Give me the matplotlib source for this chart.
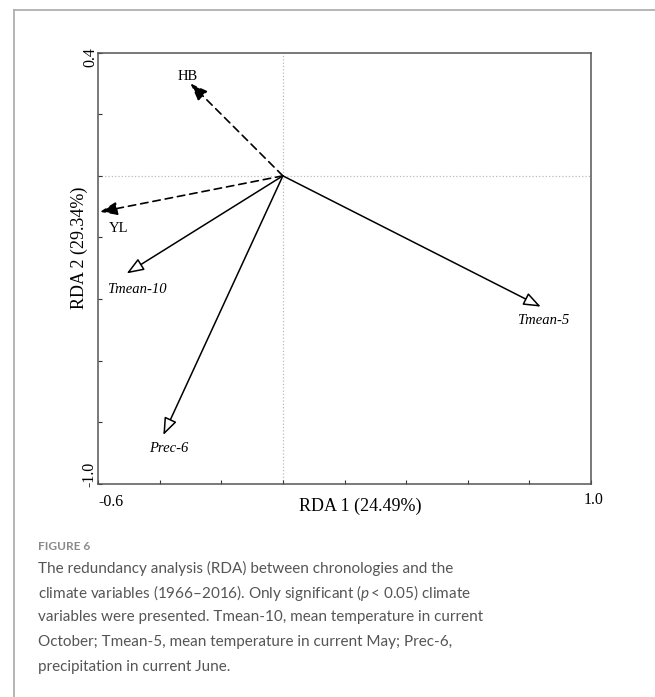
import matplotlib
matplotlib.use('Agg')
import matplotlib.pyplot as plt
from matplotlib.lines import Line2D

# dados
nomes_resp = ['HB', 'YL']
resp_x = [-0.30, -0.594]
resp_y = [0.30, -0.117]

nomes_clima = ['Tmean-10', 'Prec-6', 'Tmean-5']
clima_x = [-0.507, -0.388, 0.837]
clima_y = [-0.317, -0.842, -0.425]

xlabel = 'RDA 1 (24.49%)'
ylabel = 'RDA 2 (29.34%)'

W, H = 655, 697

def px(x, y):
    # pixel -> fracao da figura
    return x / W, 1 - y / H

plt.rcParams['mathtext.fontset'] = 'custom'
plt.rcParams['mathtext.it'] = 'Lato:italic'
plt.rcParams['mathtext.rm'] = 'Lato'

fig = plt.figure(figsize=(W / 100, H / 100), dpi=100)

# moldura da pagina
fig.add_artist(Line2D([14 / W, 14 / W], [0, 1 - 9.5 / H], transform=fig.transFigure,
                      color='#b0b0b0', lw=1.3))
fig.add_artist(Line2D([14 / W, 1], [1 - 9.5 / H, 1 - 9.5 / H], transform=fig.transFigure,
                      color='#b0b0b0', lw=1.3))

l, b = px(98, 483.7)
r, t = px(591, 52.7)
ax = fig.add_axes([l, b, r - l, t - b])
ax.set_xlim(-0.6, 1.0)
ax.set_ylim(-1.0, 0.4)

for s in ax.spines.values():
    s.set_color('#555555')
    s.set_linewidth(1.1)

ticks_x = [-0.6, -0.4, -0.2, 0.0, 0.2, 0.4, 0.6, 0.8, 1.0]
ticks_y = [-1.0, -0.8, -0.6, -0.4, -0.2, 0.0, 0.2, 0.4]
ax.set_xticks(ticks_x)
ax.set_yticks(ticks_y)
ax.set_xticklabels([])
ax.set_yticklabels([])
ax.tick_params(direction='in', length=3, width=0.8, color='#333333')

ax.axhline(0, color='#bbbbbb', lw=0.9, ls=':', zorder=0)
ax.axvline(0, color='#bbbbbb', lw=0.9, ls=':', zorder=0)

serif = 'Liberation Serif'
estilo_seta = '-|>,head_length=1.05,head_width=0.4'

# setas das cronologias (tracejadas, cabeca cheia)
for nome, x, y in zip(nomes_resp, resp_x, resp_y):
    ax.annotate('', xy=(x, y), xytext=(0, 0),
                arrowprops=dict(arrowstyle=estilo_seta,
                                color='black', lw=1.2, ls=(0, (4.5, 3)),
                                shrinkA=0, shrinkB=0, mutation_scale=10))

# setas do clima (continuas, cabeca aberta)
for nome, x, y in zip(nomes_clima, clima_x, clima_y):
    ax.annotate('', xy=(x, y), xytext=(0, 0),
                arrowprops=dict(arrowstyle=estilo_seta,
                                edgecolor='black', facecolor='white', lw=1.1,
                                shrinkA=0, shrinkB=0, mutation_scale=10))

# rotulos das setas
pos_rot = {'HB': (188, 76), 'YL': (119, 228), 'Tmean-10': (137, 290),
           'Prec-6': (169, 448), 'Tmean-5': (543, 320)}
for nome in nomes_resp:
    fig.text(*px(*pos_rot[nome]), nome, ha='center', va='center',
             family=serif, fontsize=10.5)
for nome in nomes_clima:
    fig.text(*px(*pos_rot[nome]), nome, ha='center', va='center',
             family=serif, fontsize=10.5, style='italic')

# rotulos dos eixos
fig.text(*px(111, 502), '-0.6', ha='center', va='center', family=serif, fontsize=11.5)
fig.text(*px(594, 500), '1.0', ha='center', va='center', family=serif, fontsize=11.5)
fig.text(*px(90, 57), '0.4', ha='center', va='center', rotation=90, family=serif, fontsize=11.5)
fig.text(*px(89, 474), '-1.0', ha='center', va='center', rotation=90, family=serif, fontsize=11.5)
fig.text(*px(360, 506), xlabel, ha='center', va='center', family=serif, fontsize=13)
fig.text(*px(79, 248), ylabel, ha='center', va='center', rotation=90, family=serif, fontsize=13)

# legenda da figura
fig.text(*px(38, 547), 'FIGURE 6', ha='left', va='center', family='Lato',
         fontsize=8.6, color='#8a8a8a', fontweight='bold')
linhas = ['The redundancy analysis (RDA) between chronologies and the',
          'climate variables (1966\u20132016). Only significant ($p$\u2009< 0.05) climate',
          'variables were presented. Tmean-10, mean temperature in current',
          'October; Tmean-5, mean temperature in current May; Prec-6,',
          'precipitation in current June.']
for i, linha in enumerate(linhas):
    fig.text(*px(38, 568 + i * 24.7), linha, ha='left', va='center', family='Lato',
             fontsize=11.0, color='#555555')

fig.savefig('out.png', dpi=100)
